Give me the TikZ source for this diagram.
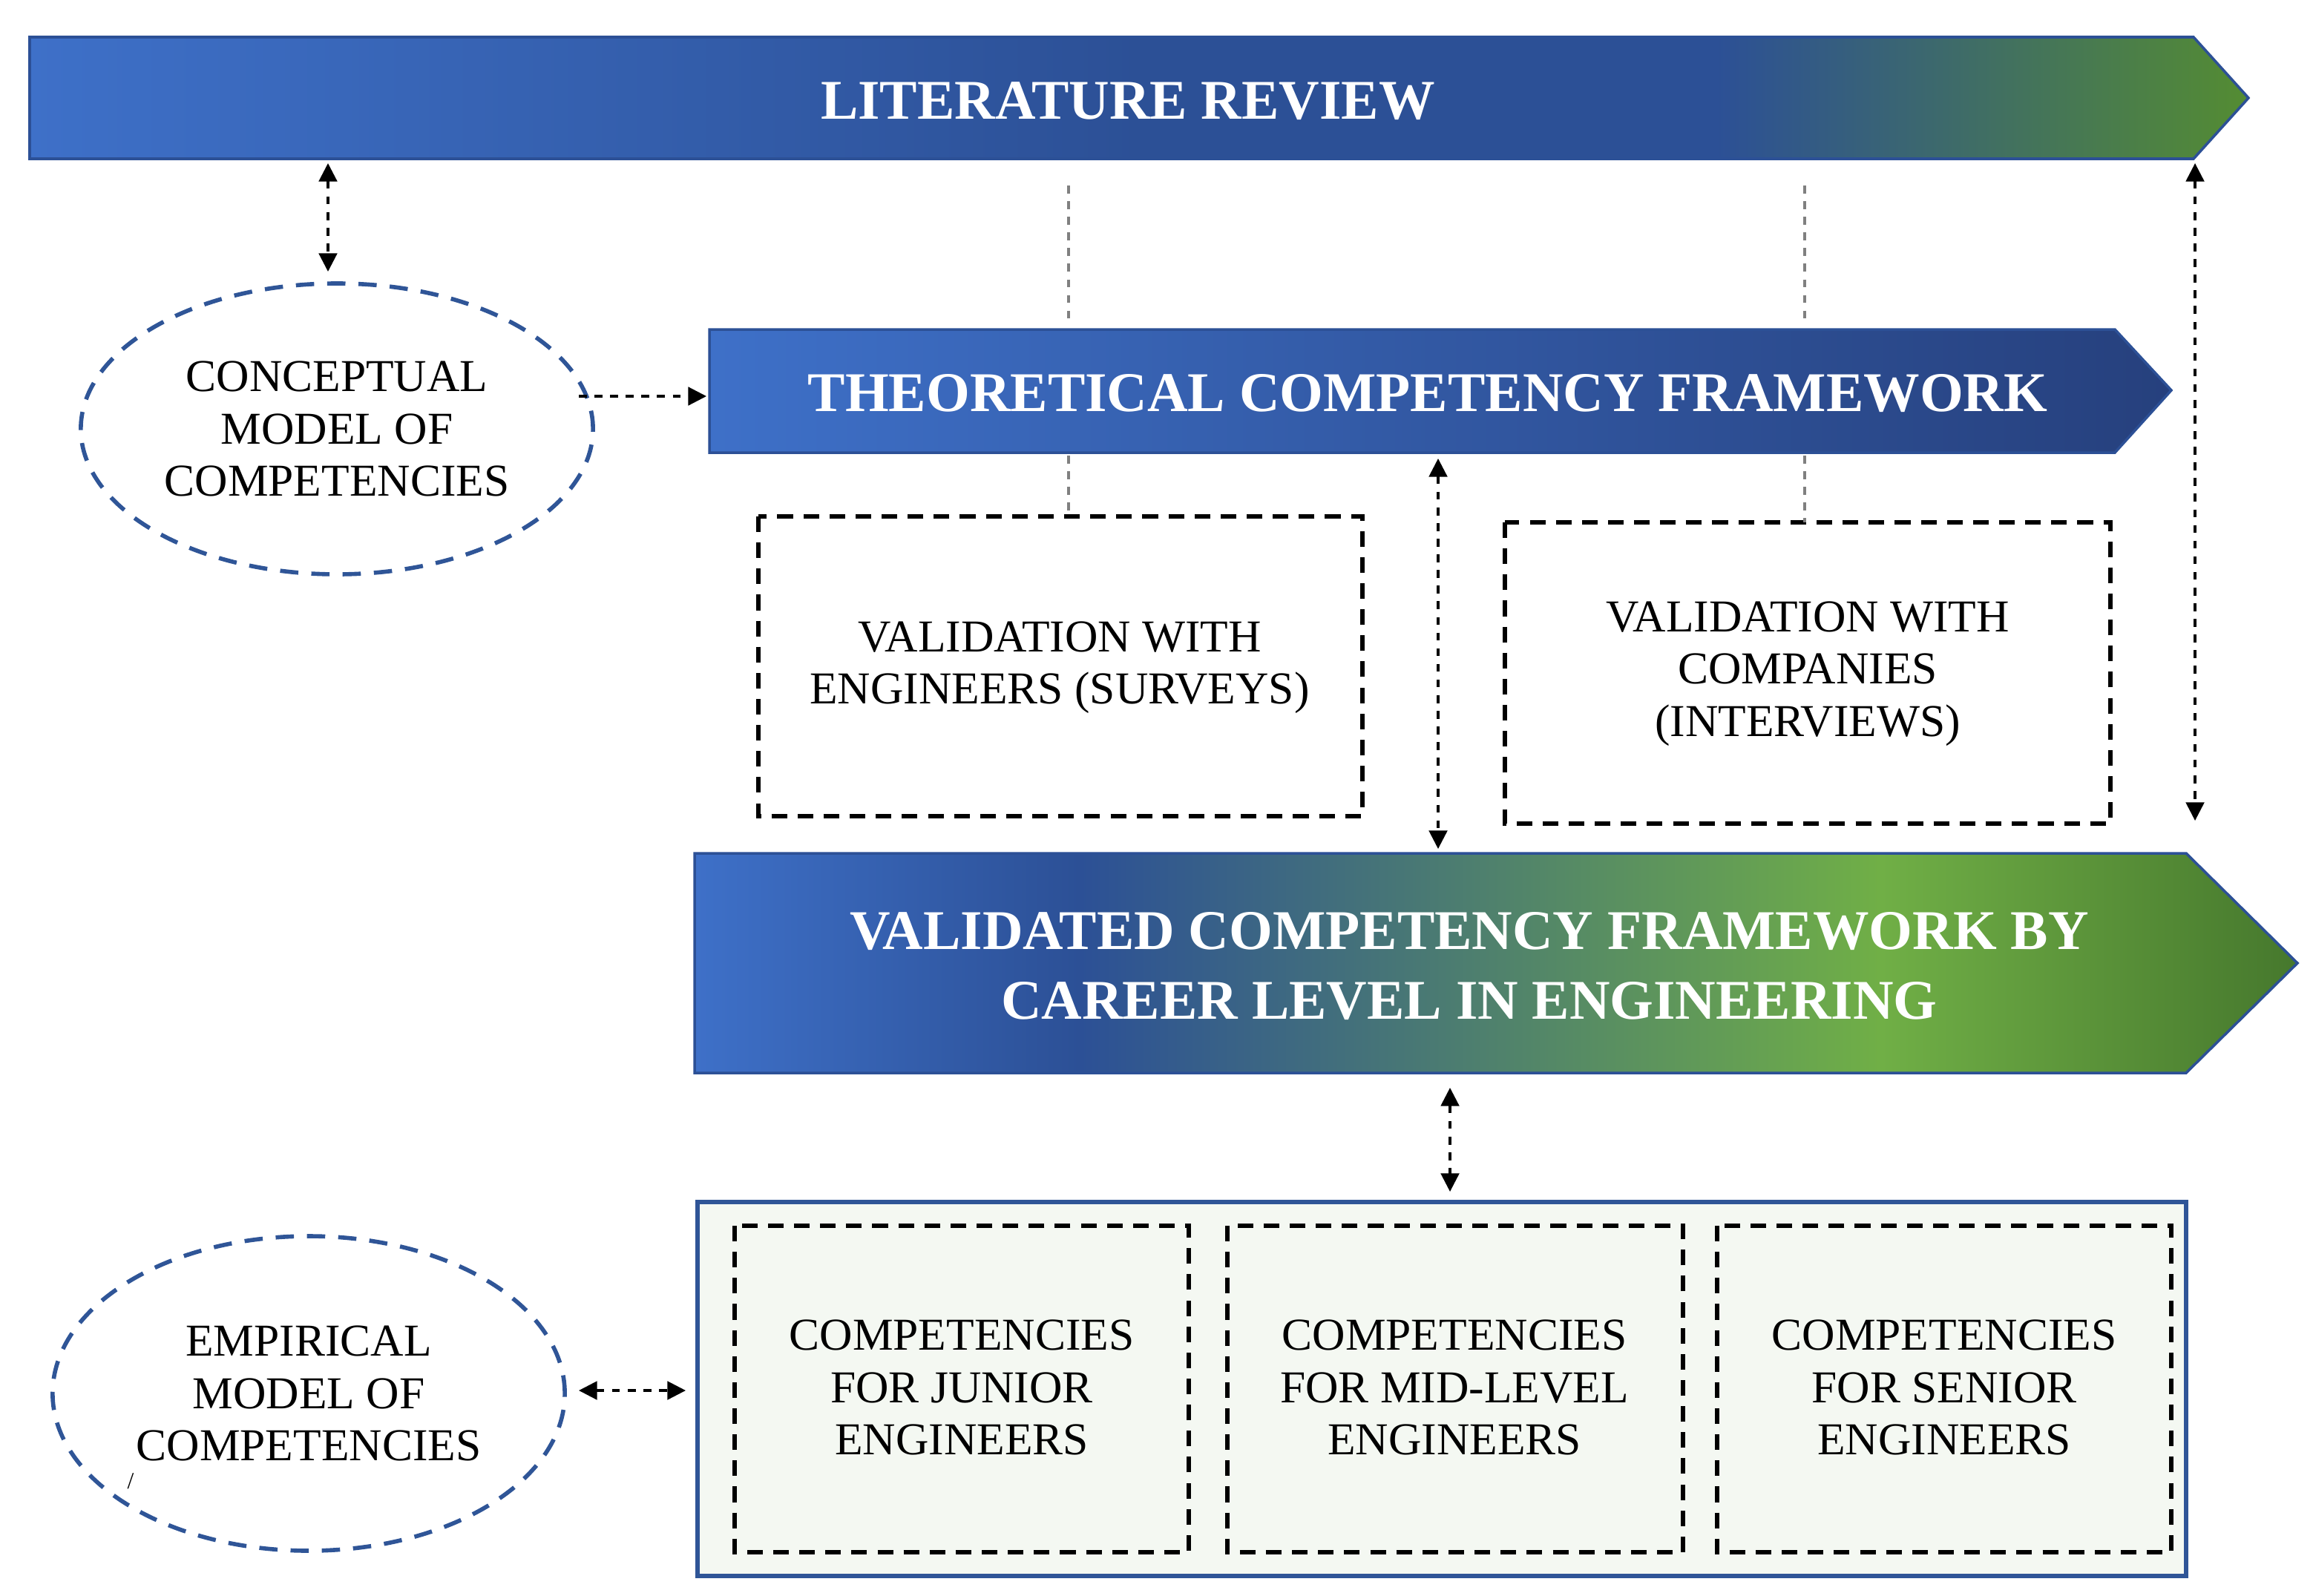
\documentclass[tikz,border=0pt]{standalone}
\usepackage{fontspec}
\setmainfont{Liberation Serif}
\usetikzlibrary{arrows.meta,shapes.geometric}
\definecolor{bA}{RGB}{62,112,200}
\definecolor{bB}{RGB}{44,80,150}
\definecolor{bC}{RGB}{38,64,125}
\definecolor{gA}{RGB}{84,140,50}
\definecolor{gL}{RGB}{112,175,70}
\definecolor{gD}{RGB}{70,120,45}
\definecolor{eB}{RGB}{47,85,151}
\pgfdeclarehorizontalshading{litsh}{100bp}{color(0bp)=(bA); color(25bp)=(bA); color(50bp)=(bB); color(63bp)=(bB); color(75bp)=(gA); color(100bp)=(gA)}
\pgfdeclarehorizontalshading{thsh}{100bp}{color(0bp)=(bA); color(25bp)=(bA); color(75bp)=(bC); color(100bp)=(bC)}
\pgfdeclarehorizontalshading{valsh}{100bp}{color(0bp)=(bA); color(25bp)=(bA); color(37bp)=(bB); color(62bp)=(gL); color(75bp)=(gD); color(100bp)=(gD)}
\tikzset{
 ttl/.style={text=white,font=\bfseries\fontsize{21.5}{27}\selectfont,align=center},
 lbl/.style={font=\fontsize{17.5}{20}\selectfont,align=center},
 dbox/.style={draw=black,dashed,line width=1.6pt,dash pattern=on 6pt off 4pt},
 ell/.style={draw=eB,line width=1.6pt,dash pattern=on 7pt off 5pt,ellipse,lbl},
 conn/.style={dashed,line width=0.9pt,{Triangle[length=7pt,width=7pt]}-{Triangle[length=7pt,width=7pt]}},
 gl/.style={gray,dashed,line width=0.9pt},
}
\begin{document}
\begin{tikzpicture}[x=0.02cm,y=-0.02cm]
\useasboundingbox (0,0) rectangle (1558.5,1075);
% literature review
\path[shading=litsh,draw=bB,line width=1pt] (20,25)--(1478,25)--(1515,66)--(1478,107)--(20,107)--cycle;
\node[ttl] (lit) at (760,68) {LITERATURE REVIEW};
% theoretical
\path[shading=thsh,draw=bB,line width=1pt] (478,222)--(1425,222)--(1463,263)--(1425,305)--(478,305)--cycle;
\node[ttl] (th) at (962,265) {THEORETICAL COMPETENCY FRAMEWORK};
% validated
\path[shading=valsh,draw=bB,line width=1pt] (468,575)--(1473,575)--(1548,649)--(1473,723)--(468,723)--cycle;
\node[ttl] (val) at (990,651) {VALIDATED COMPETENCY FRAMEWORK BY\\CAREER LEVEL IN ENGINEERING};
% ellipses
\node[ell,minimum width=344*0.02cm,minimum height=196*0.02cm] (con) at (227,289) {CONCEPTUAL\\MODEL OF\\COMPETENCIES};
\node[ell,minimum width=344*0.02cm,minimum height=212*0.02cm] (emp) at (208,939) {EMPIRICAL\\MODEL OF\\COMPETENCIES};
\node[font=\fontsize{9}{10}\selectfont] at (88,998) {/};
% validation boxes
\draw[dbox] (511,348) rectangle (918,550);
\node[lbl] (ve) at (714,450) {VALIDATION WITH\\ENGINEERS (SURVEYS)};
\draw[dbox] (1014,352) rectangle (1422,555);
\node[lbl] (vc) at (1218,454) {VALIDATION WITH\\COMPANIES\\(INTERVIEWS)};
% outer box
\draw[eB,fill={rgb,255:red,244;green,248;blue,242},line width=1.6pt] (470,810) rectangle (1473,1062);
\draw[dbox] (495,826) rectangle (801,1046);
\draw[dbox] (827,826) rectangle (1134,1046);
\draw[dbox] (1157,826) rectangle (1463,1046);
\node[lbl] (cj) at (648,935) {COMPETENCIES\\FOR JUNIOR\\ENGINEERS};
\node[lbl] (cm) at (980,935) {COMPETENCIES\\FOR MID-LEVEL\\ENGINEERS};
\node[lbl] (cs) at (1310,935) {COMPETENCIES\\FOR SENIOR\\ENGINEERS};
% connector coordinates
\coordinate (a1) at (221,110); \coordinate (a2) at (221,183);
\coordinate (b1) at (390,267); \coordinate (b2) at (476,267);
\coordinate (c1) at (969,309); \coordinate (c2) at (969,572);
\coordinate (d1) at (1479,110); \coordinate (d2) at (1479,553);
\coordinate (e1) at (977,733); \coordinate (e2) at (977,803);
\coordinate (f1) at (390,937); \coordinate (f2) at (462,937);
\draw[conn] (a1)--(a2);
\draw[dashed,line width=0.9pt,-{Triangle[length=7pt,width=7pt]}] (b1)--(b2);
\draw[conn] (c1)--(c2);
\draw[conn] (d1)--(d2);
\draw[conn] (e1)--(e2);
\draw[conn] (f1)--(f2);
\coordinate (g1) at (720,125); \coordinate (g2) at (720,218);
\coordinate (g3) at (720,307); \coordinate (g4) at (720,348);
\coordinate (h1) at (1216,125); \coordinate (h2) at (1216,218);
\coordinate (h3) at (1216,307); \coordinate (h4) at (1216,352);
\draw[gl] (g1)--(g2); \draw[gl] (g3)--(g4);
\draw[gl] (h1)--(h2); \draw[gl] (h3)--(h4);
\end{tikzpicture}
\end{document}
